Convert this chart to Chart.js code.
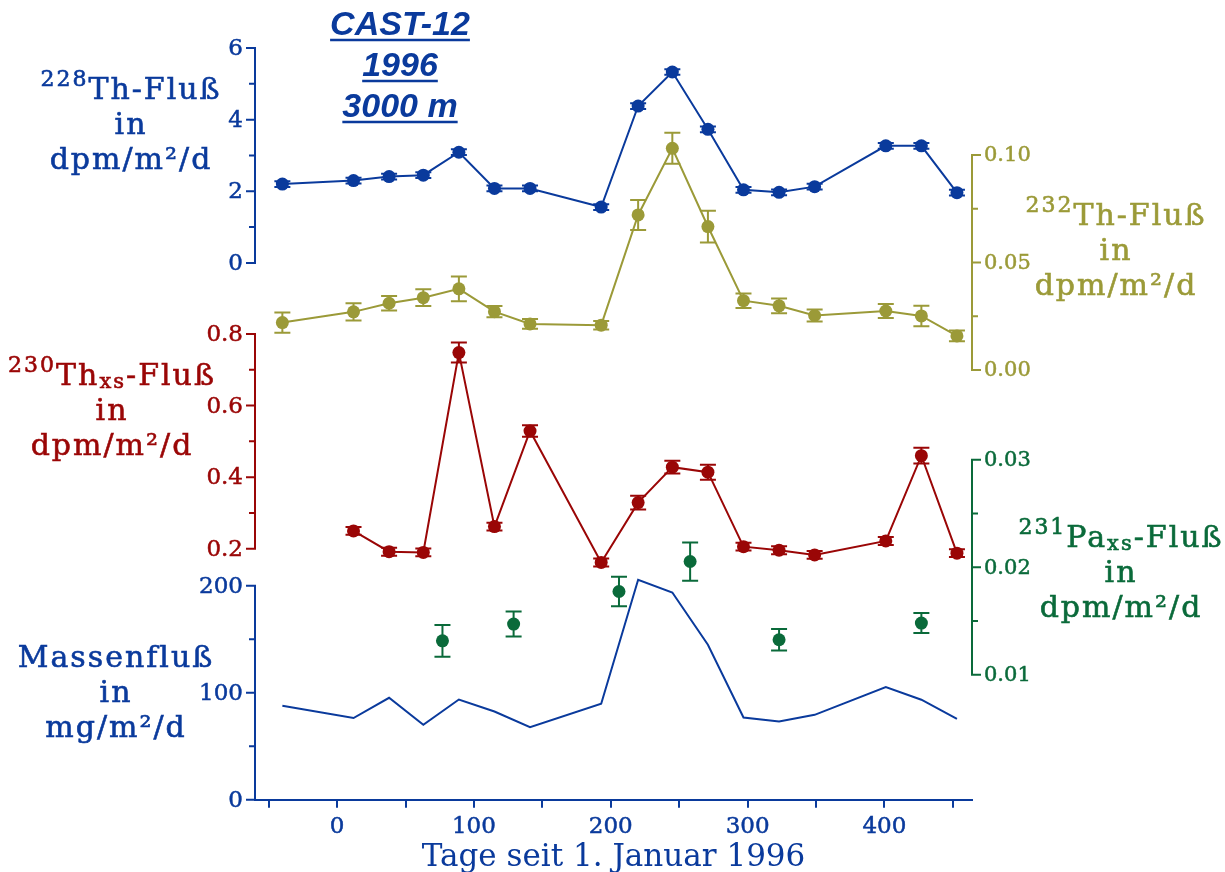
<!DOCTYPE html>
<html>
<head>
<meta charset="utf-8">
<script src="https://cdn.jsdelivr.net/npm/chart.js@4.4.1/dist/chart.umd.min.js"></script>
<style>
  html, body { margin: 0; padding: 0; background: #fff; }
</style>
</head>
<body>
<canvas id="chart" width="1225" height="872"></canvas>
<script>
// Probenahme: Tage seit 1. Januar 1996
const days = [-40, 12, 38, 63, 89, 115, 141, 193, 220, 245, 271, 297, 323, 349, 401, 427, 453];

const th228 = [2.20, 2.30, 2.41, 2.45, 3.09, 2.08, 2.08, 1.56, 4.38, 5.33, 3.73, 2.04, 1.97, 2.13, 3.27, 3.27, 1.96];
const th228Err = [0.08, 0.08, 0.08, 0.08, 0.08, 0.08, 0.08, 0.08, 0.08, 0.08, 0.08, 0.08, 0.08, 0.08, 0.08, 0.08, 0.08];

const th232 = [0.0220, 0.0270, 0.0310, 0.0336, 0.0377, 0.0271, 0.0214, 0.0208, 0.0721, 0.1031, 0.0667, 0.0322, 0.0298, 0.0253, 0.0274, 0.0251, 0.0158];
const th232Err = [0.0047, 0.0040, 0.0034, 0.0039, 0.0058, 0.0026, 0.0023, 0.0020, 0.0070, 0.0072, 0.0074, 0.0034, 0.0034, 0.0028, 0.0032, 0.0048, 0.0025];

// kein 230Th-Wert am ersten Termin
const th230 = [null, 0.250, 0.192, 0.190, 0.748, 0.262, 0.529, 0.162, 0.329, 0.428, 0.414, 0.206, 0.196, 0.183, 0.222, 0.460, 0.188];
const th230Err = [null, 0.011, 0.011, 0.011, 0.028, 0.011, 0.016, 0.011, 0.019, 0.018, 0.021, 0.011, 0.011, 0.011, 0.011, 0.022, 0.011];

const pa231Days = [77, 129, 206, 258, 323, 427];
const pa231 = [0.01316, 0.01472, 0.01775, 0.02054, 0.01326, 0.01481];
const pa231Err = [0.00147, 0.00116, 0.00137, 0.00178, 0.00100, 0.00093];

const massFlux = [87.9, 76.4, 95.3, 70.1, 93.7, 82.5, 67.9, 89.7, 205.6, 193.7, 144.9, 76.9, 73.2, 79.4, 105.3, 93.5, 75.7];

// tick labels
const dayTicks = [0, 100, 200, 300, 400];
const th228Ticks = [0, 2, 4, 6];
const th232Ticks = [0, 0.05, 0.10];
const th230Ticks = [0.2, 0.4, 0.6, 0.8];
const pa231Ticks = [0.01, 0.02, 0.03];
const massTicks = [0, 100, 200];

const BLUE = "#0a3a9c";
const OLIVE = "#9b9a38";
const RED = "#9a0606";
const GREEN = "#0a6a3a";
const SERIF = '"DejaVu Serif", serif';

// plot area in px, each y axis occupies its own band inside it
const PLOT_TOP = 48;
const PLOT_BOTTOM = 800;

function band(lo, hi, yHi, yLo) {
  const k = (hi - lo) / (yLo - yHi);
  return { min: lo - (PLOT_BOTTOM - yLo) * k, max: hi + (yHi - PLOT_TOP) * k };
}

const bands = {
  yTh228: band(0, 6, 48, 263),
  yTh232: band(0, 0.10, 155, 370),
  yTh230: band(0.2, 0.8, 334, 549),
  yPa231: band(0.01, 0.03, 460, 675),
  yMass: band(0, 200, 586, 800),
};

const axisDefs = [
  { id: "yTh228", side: "left", ticks: th228Ticks, minor: 1, digits: 0, color: BLUE },
  { id: "yTh232", side: "right", ticks: th232Ticks, minor: 0.025, digits: 2, color: OLIVE },
  { id: "yTh230", side: "left", ticks: th230Ticks, minor: 0.1, digits: 1, color: RED },
  { id: "yPa231", side: "right", ticks: pa231Ticks, minor: 0.005, digits: 2, color: GREEN },
  { id: "yMass", side: "left", ticks: massTicks, minor: 50, digits: 0, color: BLUE },
];

// axis titles: runs of [text, font size, vertical shift]
const axisTitles = [
  { color: BLUE, x: 131, y: 99, lines: [[["228", 22, -13], ["Th-Fluß", 30, 0]], [["in", 30, 0]], [["dpm/m²/d", 30, 0]]] },
  { color: RED, x: 112, y: 385, lines: [[["230", 22, -13], ["Th", 30, 0], ["xs", 21, 3], ["-Fluß", 30, 0]], [["in", 30, 0]], [["dpm/m²/d", 30, 0]]] },
  { color: OLIVE, x: 1116, y: 225, lines: [[["232", 22, -13], ["Th-Fluß", 30, 0]], [["in", 30, 0]], [["dpm/m²/d", 30, 0]]] },
  { color: GREEN, x: 1121, y: 547, lines: [[["231", 22, -13], ["Pa", 30, 0], ["xs", 21, 3], ["-Fluß", 30, 0]], [["in", 30, 0]], [["dpm/m²/d", 30, 0]]] },
  { color: BLUE, x: 116, y: 667, lines: [[["Massenfluß", 30, 0]], [["in", 30, 0]], [["mg/m²/d", 30, 0]]] },
];

const stationTitle = ["CAST-12", "1996", "3000 m"];

const toPoints = (xs, ys) =>
  xs.map((x, i) => ({ x, y: ys[i] })).filter((p) => p.y !== null);

const toErrors = (errs) => errs.filter((e) => e !== null);

const errorBars = {
  id: "errorBars",
  beforeDatasetsDraw(chart) {
    const { ctx } = chart;
    chart.data.datasets.forEach((ds, i) => {
      if (!ds.errors) return;
      const meta = chart.getDatasetMeta(i);
      const yScale = chart.scales[ds.yAxisID];
      ctx.save();
      ctx.strokeStyle = ds.borderColor;
      ctx.lineWidth = 2;
      ctx.beginPath();
      meta.data.forEach((el, j) => {
        const v = ds.data[j].y;
        const e = ds.errors[j];
        const yTop = yScale.getPixelForValue(v + e);
        const yBot = yScale.getPixelForValue(v - e);
        const x = el.x;
        ctx.moveTo(x, yTop);
        ctx.lineTo(x, yBot);
        ctx.moveTo(x - 8, yTop);
        ctx.lineTo(x + 8, yTop);
        ctx.moveTo(x - 8, yBot);
        ctx.lineTo(x + 8, yBot);
      });
      ctx.stroke();
      ctx.restore();
    });
  },
};

const bandAxes = {
  id: "bandAxes",
  beforeDatasetsDraw(chart) {
    const { ctx, chartArea } = chart;
    axisDefs.forEach((a) => {
      const s = chart.scales[a.id];
      const x = a.side === "left" ? chartArea.left : chartArea.right;
      const dir = a.side === "left" ? -1 : 1;
      const lo = a.ticks[0];
      const hi = a.ticks[a.ticks.length - 1];
      ctx.save();
      ctx.strokeStyle = a.color;
      ctx.lineWidth = 2;
      ctx.lineCap = "square";
      ctx.beginPath();
      ctx.moveTo(x, s.getPixelForValue(lo));
      ctx.lineTo(x, s.getPixelForValue(hi));
      const n = Math.round((hi - lo) / a.minor);
      for (let i = 0; i <= n; i++) {
        const y = s.getPixelForValue(lo + i * a.minor);
        ctx.moveTo(x, y);
        ctx.lineTo(x + dir * 5, y);
      }
      a.ticks.forEach((v) => {
        const y = s.getPixelForValue(v);
        ctx.moveTo(x, y);
        ctx.lineTo(x + dir * 8, y);
      });
      ctx.stroke();
      ctx.fillStyle = a.color;
      ctx.lineWidth = 0.5;
      ctx.font = (a.side === "left" ? "23px " : "21px ") + SERIF;
      ctx.textAlign = a.side === "left" ? "right" : "left";
      ctx.textBaseline = "middle";
      a.ticks.forEach((v) => {
        const label = v.toFixed(a.digits);
        const y = s.getPixelForValue(v) + 1;
        ctx.fillText(label, x + dir * 12, y);
        ctx.strokeText(label, x + dir * 12, y);
      });
      ctx.restore();
    });
  },
};

function drawRuns(ctx, runs, cx, baseline) {
  let w = 0;
  runs.forEach(([t, size]) => {
    ctx.font = size + "px " + SERIF;
    w += ctx.measureText(t).width;
  });
  let x = cx - w / 2;
  runs.forEach(([t, size, dy]) => {
    ctx.font = size + "px " + SERIF;
    ctx.fillText(t, x, baseline + dy);
    ctx.strokeText(t, x, baseline + dy);
    x += ctx.measureText(t).width;
  });
}

const titles = {
  id: "titles",
  afterDraw(chart) {
    const { ctx } = chart;
    ctx.save();
    ctx.textBaseline = "alphabetic";
    ctx.textAlign = "left";
    ctx.letterSpacing = "2px";
    ctx.lineWidth = 0.6;
    axisTitles.forEach((t) => {
      ctx.fillStyle = t.color;
      ctx.strokeStyle = t.color;
      t.lines.forEach((runs, i) => drawRuns(ctx, runs, t.x, t.y + i * 35));
    });
    ctx.letterSpacing = "0px";

    ctx.fillStyle = BLUE;
    ctx.strokeStyle = BLUE;
    ctx.lineWidth = 2.5;
    ctx.font = 'italic bold 34px "Liberation Sans", Arial, sans-serif';
    ctx.textAlign = "center";
    stationTitle.forEach((line, i) => {
      const y = 35 + i * 41;
      ctx.fillText(line, 400, y);
      const w = ctx.measureText(line).width;
      ctx.beginPath();
      ctx.moveTo(400 - w / 2, y + 5);
      ctx.lineTo(400 + w / 2, y + 5);
      ctx.stroke();
    });
    ctx.restore();
  },
};

const hiddenY = (id) => ({
  type: "linear",
  display: false,
  min: bands[id].min,
  max: bands[id].max,
});

const ctx = document.getElementById("chart").getContext("2d");

new Chart(ctx, {
  type: "line",
  data: {
    datasets: [
      {
        label: "228Th",
        data: toPoints(days, th228),
        errors: th228Err,
        yAxisID: "yTh228",
        borderColor: BLUE,
        backgroundColor: BLUE,
        borderWidth: 2,
        pointRadius: 6.5,
        pointBorderWidth: 0,
      },
      {
        label: "232Th",
        data: toPoints(days, th232),
        errors: th232Err,
        yAxisID: "yTh232",
        borderColor: OLIVE,
        backgroundColor: OLIVE,
        borderWidth: 2,
        pointRadius: 6.5,
        pointBorderWidth: 0,
      },
      {
        label: "230Th",
        data: toPoints(days, th230),
        errors: toErrors(th230Err),
        yAxisID: "yTh230",
        borderColor: RED,
        backgroundColor: RED,
        borderWidth: 2,
        pointRadius: 6.5,
        pointBorderWidth: 0,
      },
      {
        label: "231Pa",
        data: toPoints(pa231Days, pa231),
        errors: pa231Err,
        yAxisID: "yPa231",
        borderColor: GREEN,
        backgroundColor: GREEN,
        showLine: false,
        pointRadius: 6.5,
        pointBorderWidth: 0,
      },
      {
        label: "Massenfluß",
        data: toPoints(days, massFlux),
        yAxisID: "yMass",
        borderColor: BLUE,
        borderWidth: 2,
        pointRadius: 0,
      },
    ],
  },
  options: {
    responsive: false,
    animation: false,
    layout: {
      padding: { left: 255, right: 253, top: PLOT_TOP, bottom: 2 },
    },
    plugins: {
      legend: { display: false },
      tooltip: { enabled: false },
    },
    scales: {
      x: {
        type: "linear",
        position: "bottom",
        min: -60,
        max: 464,
        border: { display: true, color: BLUE, width: 2 },
        grid: { drawOnChartArea: false, color: BLUE, lineWidth: 2, tickLength: 8 },
        ticks: {
          stepSize: 50,
          includeBounds: false,
          autoSkip: false,
          maxRotation: 0,
          padding: 8,
          color: BLUE,
          textStrokeColor: BLUE,
          textStrokeWidth: 0.5,
          font: { family: SERIF, size: 23, lineHeight: 1 },
          callback: (v) => (dayTicks.includes(v) ? String(v) : ""),
        },
        title: {
          display: true,
          text: "Tage seit 1. Januar 1996",
          color: BLUE,
          font: { family: SERIF, size: 31, lineHeight: 0.75 },
          padding: { top: 0, bottom: 0 },
        },
      },
      yTh228: hiddenY("yTh228"),
      yTh232: hiddenY("yTh232"),
      yTh230: hiddenY("yTh230"),
      yPa231: hiddenY("yPa231"),
      yMass: hiddenY("yMass"),
    },
  },
  plugins: [bandAxes, errorBars, titles],
});
</script>
</body>
</html>
